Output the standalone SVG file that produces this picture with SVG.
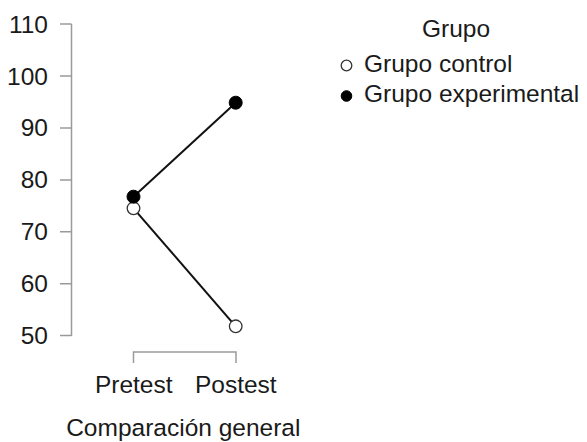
<svg xmlns="http://www.w3.org/2000/svg" width="587" height="442" viewBox="0 0 587 442">
<style>
text{font-family:"Liberation Sans",Arial,sans-serif;font-size:24.5px;fill:#1a1a1a}
.ax{stroke:#9a9a9a;stroke-width:1.5;fill:none}
.ln{stroke:#111;stroke-width:2;fill:none}
.open{fill:#fff;stroke:#333;stroke-width:1.3}
.fill{fill:#000;stroke:#000;stroke-width:1}
.yl{text-anchor:end}
.mid{text-anchor:middle}
</style>
<rect width="587" height="442" fill="#fff"/>
<g id="y-axis">
<path class="ax" d="M71.5 24V336M60 24H71.5M60 76H71.5M60 128H71.5M60 180H71.5M60 231.8H71.5M60 283.7H71.5M60 335.6H71.5"/>
<text class="yl" x="48" y="32.5">110</text>
<text class="yl" x="48" y="84.5">100</text>
<text class="yl" x="48" y="136.4">90</text>
<text class="yl" x="48" y="188.4">80</text>
<text class="yl" x="48" y="240.3">70</text>
<text class="yl" x="48" y="292.2">60</text>
<text class="yl" x="48" y="344.1">50</text>
</g>
<g id="x-axis">
<path class="ax" d="M133.5 363V352H236V363"/>
<text class="mid" x="133.7" y="392.7">Pretest</text>
<text class="mid" x="235.8" y="392.7">Postest</text>
<text class="mid" x="183.3" y="436">Comparación general</text>
</g>
<g id="connectors">
<line class="ln" x1="133.5" y1="196.7" x2="235.7" y2="102.7"/>
<line class="ln" x1="133.5" y1="208.3" x2="235.7" y2="326.3"/>
</g>
<g id="control">
<circle class="open" cx="133.5" cy="208.3" r="6.3"/>
<circle class="open" cx="235.7" cy="326.3" r="6.3"/>
</g>
<g id="experimental">
<circle class="fill" cx="133.5" cy="196.7" r="6.5"/>
<circle class="fill" cx="235.7" cy="102.7" r="6.5"/>
</g>
<g id="legend">
<text class="mid" x="456" y="36.7">Grupo</text>
<circle class="open" cx="346.5" cy="65.5" r="5.3"/>
<text x="364" y="71.7">Grupo control</text>
<circle class="fill" cx="346.5" cy="96" r="5.3"/>
<text x="364" y="101.7">Grupo experimental</text>
</g>
</svg>
